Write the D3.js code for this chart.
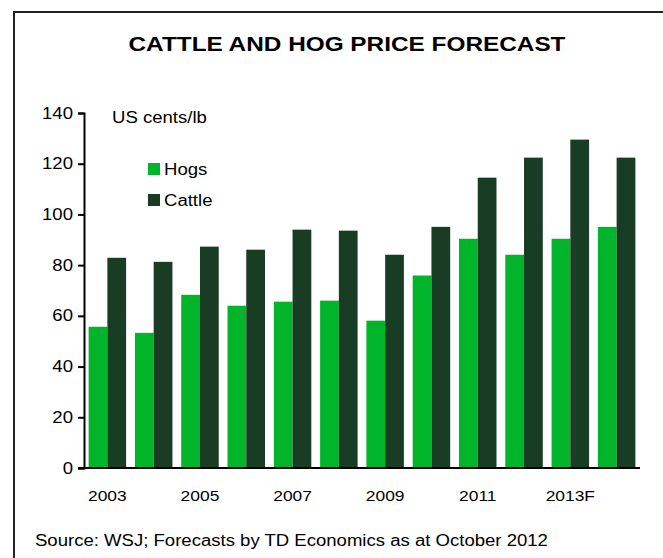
<!DOCTYPE html>
<html>
<head>
<meta charset="utf-8">
<script src="https://cdn.jsdelivr.net/npm/d3@7/dist/d3.min.js"></script>
<style>
  body { margin: 0; background: #fff; }
  svg { display: block; font-family: "Liberation Sans", Arial, sans-serif; }
</style>
</head>
<body>
<svg id="chart"></svg>
<script>
// Years and series values (US cents/lb)
const years = ['2003', '2004', '2005', '2006', '2007', '2008', '2009', '2010', '2011', '2012', '2013F', '2014F'];
const hogs = [55.7, 53.3, 68.3, 64.0, 65.6, 66.0, 58.1, 75.9, 90.4, 84.1, 90.4, 95.1];
const cattle = [82.9, 81.3, 87.3, 86.1, 94.0, 93.6, 84.1, 95.1, 114.5, 122.4, 129.5, 122.4];
const yTicks = [0, 20, 40, 60, 80, 100, 120, 140];
const xTickLabels = ['2003', '2005', '2007', '2009', '2011', '2013F'];
const seriesNames = ['Hogs', 'Cattle'];

const width = 663;
const height = 558;
const margin = { top: 113, right: 23, bottom: 90, left: 84 };
const colors = { Hogs: '#00b52a', Cattle: '#183d24' };
// the original's lettering is a bit wider than Arial
const stretch = 1.16;

const svg = d3.select('#chart')
  .attr('width', width)
  .attr('height', height);

// place a horizontally stretched text at (x, y)
function label(x, y, str, size, anchor = 'start', weight = 'normal') {
  return svg.append('text')
    .attr('transform', `translate(${x},${y}) scale(${stretch},1)`)
    .attr('text-anchor', anchor)
    .attr('font-size', size)
    .attr('font-weight', weight)
    .text(str);
}

// Outer frame (only top and left edges fall inside the picture)
svg.append('path')
  .attr('d', `M14,${height} L14,12 L${width},12`)
  .attr('fill', 'none')
  .attr('stroke', '#222')
  .attr('stroke-width', 2);

label(347, 51, 'CATTLE AND HOG PRICE FORECAST', 21, 'middle', 'bold');

const x0 = d3.scaleBand()
  .domain(years)
  .range([margin.left, width - margin.right])
  .paddingInner(0.19)
  .paddingOuter(0.1);

const x1 = d3.scaleBand()
  .domain(seriesNames)
  .range([0, x0.bandwidth()]);

const y = d3.scaleLinear()
  .domain([0, 140])
  .range([height - margin.bottom, margin.top]);

// Bars
const groups = svg.append('g')
  .selectAll('g')
  .data(years)
  .join('g')
  .attr('transform', d => `translate(${x0(d)},0)`);

groups.selectAll('rect')
  .data((d, i) => [{ key: 'Hogs', value: hogs[i] }, { key: 'Cattle', value: cattle[i] }])
  .join('rect')
  .attr('x', d => x1(d.key))
  .attr('width', x1.bandwidth())
  .attr('y', d => y(d.value))
  .attr('height', d => y(0) - y(d.value))
  .attr('fill', d => colors[d.key]);

// Y axis
const yAxis = svg.append('g')
  .attr('transform', `translate(${margin.left},0)`)
  .call(d3.axisLeft(y).tickValues(yTicks).tickSize(6).tickPadding(5));
yAxis.select('.domain').attr('stroke', '#000').attr('stroke-width', 2);
yAxis.selectAll('.tick line').attr('stroke', '#000').attr('stroke-width', 2);
yAxis.selectAll('.tick text')
  .attr('font-size', 16)
  .attr('fill', '#000')
  .attr('font-family', '"Liberation Sans", Arial, sans-serif')
  .attr('x', -11 / stretch)
  .attr('transform', `scale(${stretch},1)`);

// X axis line
svg.append('line')
  .attr('x1', margin.left - 6)
  .attr('x2', width - margin.right)
  .attr('y1', y(0))
  .attr('y2', y(0))
  .attr('stroke', '#000')
  .attr('stroke-width', 2);

// X labels (every other year)
xTickLabels.forEach(d => {
  label(x0(d) + x0.bandwidth() / 2, y(0) + 33, d, 15, 'middle');
});

// Unit label
label(112, 123, 'US cents/lb', 16);

// Legend
seriesNames.forEach((d, i) => {
  svg.append('rect')
    .attr('x', 148)
    .attr('y', 163 + i * 31)
    .attr('width', 12)
    .attr('height', 12)
    .attr('fill', colors[d]);
  label(164, 175 + i * 31, d, 16);
});

// Source note
label(35, 546, 'Source: WSJ; Forecasts by TD Economics as at October 2012', 16);
</script>
</body>
</html>
